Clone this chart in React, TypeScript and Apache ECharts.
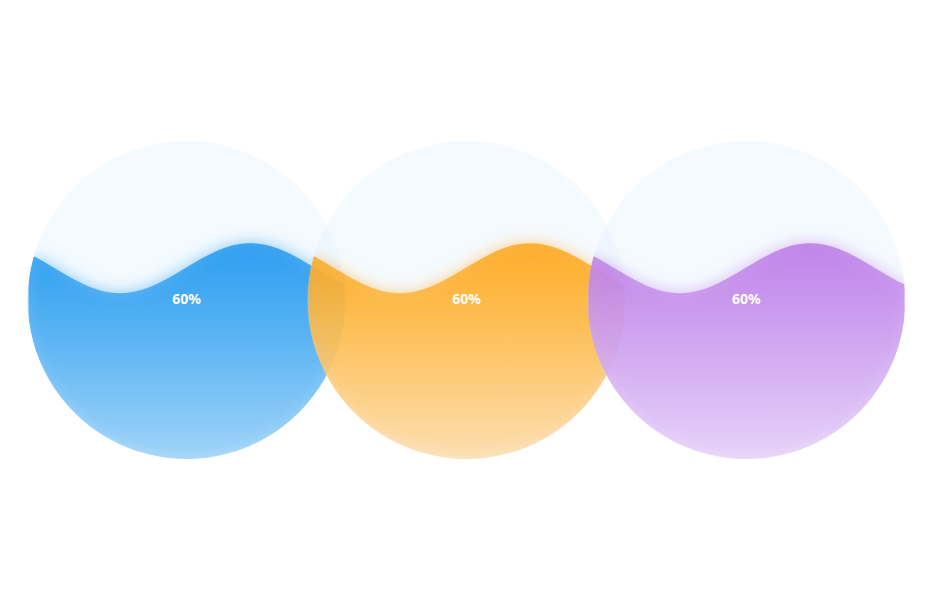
import React, { useEffect, useRef } from "react";
import * as echarts from "echarts";

// ---- data ----
const names = ["A", "B", "C"];
const values = [0.6, 0.6, 0.6];
const topColors = ["#0a8eee", "#ff9f00", "#b66fe6"];
const bottomColors = ["#a1d5f8", "#fce2b6", "#e9d7fa"];
const glowColors = ["rgba(58,168,242,0.8)", "rgba(255,182,64,0.8)", "rgba(198,146,236,0.8)"];

// ---- layout ----
const centerXRatio = [0.2, 0.5, 0.8];
const centerYRatio = 0.5;
const radiusRatio = 0.265; // of min(width, height)
const waveLengthRatio = 0.82; // of diameter
const amplitudeRatio = 0.157; // of radius

export default function App() {
  const ref = useRef<HTMLDivElement>(null);

  useEffect(() => {
    if (!ref.current) return;
    const chart = echarts.init(ref.current, undefined, { renderer: "svg" });

    const renderItem = (params: any, api: any) => {
      const i = params.dataIndex;
      const v = api.value(0);
      const W = api.getWidth();
      const H = api.getHeight();
      const R = Math.min(W, H) * radiusRatio;
      const cx = W * centerXRatio[i];
      const cy = H * centerYRatio;
      const level = cy + R - v * 2 * R;
      const A = R * amplitudeRatio;
      const lambda = 2 * R * waveLengthRatio;
      const wave = (x: number) => level - A * Math.sin((2 * Math.PI * (x - cx + 1.5)) / lambda);

      const N = 320;
      const tops: number[][] = [];
      const bottoms: number[][] = [];
      for (let k = 0; k <= N; k++) {
        const x = cx - R + (2 * R * k) / N;
        const dx = x - cx;
        const h = Math.sqrt(Math.max(0, R * R - dx * dx));
        const top = Math.max(cy - h, wave(x));
        const bot = cy + h;
        if (top < bot) {
          tops.push([x, top]);
          bottoms.push([x, bot]);
        }
      }
      const points = tops.concat(bottoms.reverse());

      return {
        type: "group",
        children: [
          {
            type: "circle",
            shape: { cx, cy, r: R },
            style: { fill: "rgba(225,240,255,0.35)" },
            silent: true,
          },
          {
            type: "polygon",
            shape: { points },
            clipPath: { type: "circle", shape: { cx, cy, r: R } },
            style: {
              fill: new echarts.graphic.LinearGradient(
                0,
                level - A,
                0,
                cy + R,
                [
                  { offset: 0, color: topColors[i] },
                  { offset: 1, color: bottomColors[i] },
                ],
                true
              ),
              opacity: 0.75,
              shadowBlur: 16,
              shadowColor: glowColors[i],
            },
            silent: true,
          },
          {
            type: "text",
            style: {
              text: Math.round(v * 100) + "%",
              x: cx,
              y: cy - 1.5,
              textAlign: "center",
              textVerticalAlign: "middle",
              fill: "#ffffff",
              fontSize: 14,
              fontWeight: "bold",
              fontFamily: "'Microsoft YaHei', 'Noto Sans', sans-serif",
            },
            silent: true,
          },
        ],
      };
    };

    chart.setOption({
      animation: false,
      backgroundColor: "#ffffff",
      series: [
        {
          type: "custom",
          coordinateSystem: "none",
          renderItem,
          data: values.map((v, i) => ({ name: names[i], value: [v] })),
          silent: true,
        },
      ],
    });

    return () => chart.dispose();
  }, []);

  return (
    <div
      ref={ref}
      style={{ position: "absolute", left: 0, top: 0, width: 933, height: 600 }}
    />
  );
}
